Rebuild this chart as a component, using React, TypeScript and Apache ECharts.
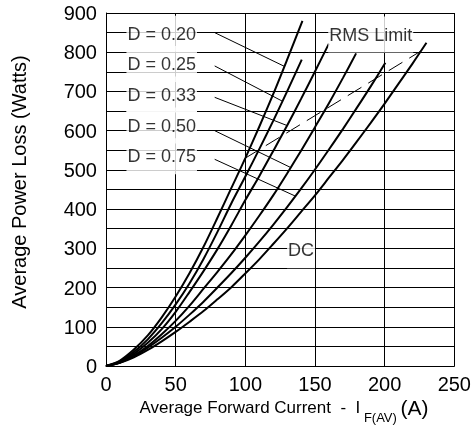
import React, { useEffect, useRef } from 'react';
import * as echarts from 'echarts';

const FONT = '"Liberation Sans", Arial, Helvetica, sans-serif';

// Curves: [Average forward current (A), Average power loss (W)]
const curveD020 = [[0,0],[10,14],[20,42],[30,78],[40,124],[50,177],[60,237],[70,304],[80,378],[90,454],[100,530],[110,610],[120,693],[130,781],[141,880]];
const curveD025 = [[0,0],[10,12],[20,36],[30,68],[40,109],[50,157],[60,211],[70,273],[80,342],[90,415],[100,483],[110,553],[120,625],[130,700],[140.5,781]];
const curveD033 = [[0,0],[10,10],[20,31],[30,59],[40,94],[50,138],[60,189],[70,242],[80,298],[90,359],[100,423],[110,484],[120,548],[130,613],[140,681],[150,751],[160,822]];
const curveD050 = [[0,0],[10,9],[20,27],[30,51],[40,81],[50,115],[60,154],[70,197],[80,240],[90,285],[100,333],[110,383],[120,435],[130,491],[140,549],[150,609],[160,670],[170,734],[179.5,797]];
const curveD075 = [[0,0],[10,9],[20,25],[30,47],[40,72],[50,100],[60,131],[70,164],[80,200],[90,237],[100,276],[110,317],[120,360],[130,405],[140,452],[150,501],[160,552],[170,604],[180,658],[190,713],[200.5,773]];
const curveDC = [[0,0],[10,8],[20,22],[30,41],[40,63],[50,87],[60,113],[70,140],[80,170],[90,201],[100,236],[110,272],[120,311],[130,351],[140,393],[150,435],[160,480],[170,525],[180,572],[190,620],[200,669],[210,720],[220,771],[230,824]];

const rmsLimit = [[100,530],[226,803]];

const dutyLabels = ['D = 0.20','D = 0.25','D = 0.33','D = 0.50','D = 0.75'];
const dutyLabelPos = [[40,852],[40,775],[40,697],[40,618],[40,540]];
const leaderStart = [[78,850],[78,765],[78,685],[78,600],[78,527]];
const leaderEnd = [[128,764],[126.7,675],[130,613],[132.6,506],[136,433]];

const otherLabels = ['RMS Limit','DC'];
const otherLabelPos = [[190,850],[140,300]];

const xMin = 0, xMax = 250, xStep = 50;
const yMin = 0, yMax = 900, yStep = 100;

export default function App() {
  const ref = useRef<HTMLDivElement>(null);
  useEffect(() => {
    if (!ref.current) return;
    const chart = echarts.init(ref.current, null, { renderer: 'svg' });
    const curves = [curveD020, curveD025, curveD033, curveD050, curveD075, curveDC];
    const curveSeries = curves.map((d) => ({
      type: 'line', data: d, smooth: 0.3, symbol: 'none', z: 3,
      lineStyle: { color: '#000', width: 2 },
    }));
    const leaderSeries = leaderStart.map((s, i) => ({
      type: 'line', data: [s, leaderEnd[i]], symbol: 'none', z: 2,
      lineStyle: { color: '#000', width: 1 },
    }));
    const labelData = dutyLabels.map((t, i) => ({ name: t, value: dutyLabelPos[i] }))
      .concat(otherLabels.map((t, i) => ({ name: t, value: otherLabelPos[i] })));
    chart.setOption({
      animation: false,
      grid: { left: 106, right: 18, top: 13, bottom: 66, show: false },
      xAxis: {
        type: 'value', min: xMin, max: xMax, interval: xStep,
        axisLine: { show: true, lineStyle: { color: '#000', width: 1 } },
        axisTick: { show: false },
        axisLabel: { color: '#000', fontSize: 20, fontFamily: FONT, margin: 8 },
        splitLine: { show: true, lineStyle: { color: '#000', width: 1 } },
      },
      yAxis: {
        type: 'value', min: yMin, max: yMax, interval: yStep,
        axisLine: { show: true, lineStyle: { color: '#000', width: 1 } },
        axisTick: { show: false },
        minorTick: { show: false, splitNumber: 2 },
        minorSplitLine: { show: true, lineStyle: { color: '#000', width: 1 } },
        axisLabel: { color: '#000', fontSize: 20, fontFamily: FONT, margin: 9 },
        splitLine: { show: true, lineStyle: { color: '#000', width: 1 } },
      },
      graphic: [
        {
          type: 'text', x: 19, y: 182, rotation: Math.PI / 2,
          style: { text: 'Average Power Loss (Watts)', fontSize: 20, fontFamily: FONT, fill: '#000', align: 'center', verticalAlign: 'middle' },
        },
        {
          type: 'text', x: 284, y: 399,
          style: {
            text: '{a|Average Forward Current  -  I}{s| F(AV) }{p|(A)}',
            align: 'center', verticalAlign: 'top', fontFamily: FONT, fill: '#000',
            rich: {
              a: { fontSize: 17, fontFamily: FONT, lineHeight: 20, verticalAlign: 'top', fill: '#000' },
              s: { fontSize: 13, fontFamily: FONT, lineHeight: 13, padding: [12, 0, 0, 0], verticalAlign: 'top', fill: '#000' },
              p: { fontSize: 21, fontFamily: FONT, lineHeight: 24, verticalAlign: 'top', padding: [-2, 0, 0, 0], fill: '#000' },
            },
          },
        },
      ],
      series: [
        ...curveSeries,
        ...leaderSeries,
        {
          type: 'line', data: rmsLimit, symbol: 'none', z: 2,
          lineStyle: { color: '#000', width: 1, type: [16, 8] },
        },
        {
          type: 'scatter', data: labelData, symbolSize: 1, z: 5,
          itemStyle: { color: 'transparent' },
          label: {
            show: true, position: 'inside', formatter: '{b}', offset: [0, 2],
            color: '#000', fontSize: 18, fontFamily: FONT, lineHeight: 20,
            backgroundColor: '#fff', padding: [6, 1, 10, 1],
          },
        },
      ],
    });
    return () => chart.dispose();
  }, []);
  return <div ref={ref} style={{ position: 'fixed', left: 0, top: 0, width: 474, height: 432 }} />;
}
